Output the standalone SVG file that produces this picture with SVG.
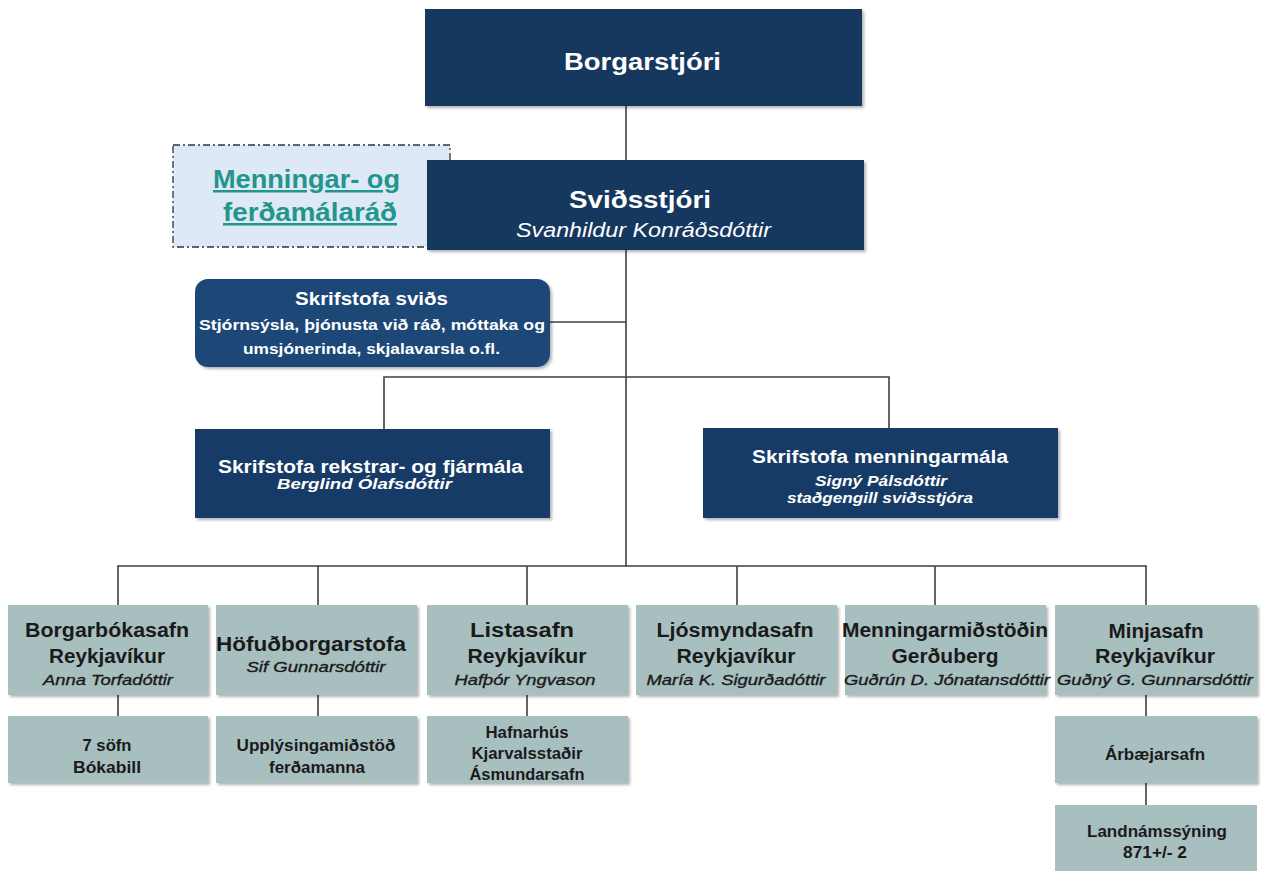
<svg xmlns="http://www.w3.org/2000/svg" width="1265" height="871" viewBox="0 0 1265 871">
<style>
text{font-family:"Liberation Sans",Arial,sans-serif;text-anchor:middle}
.w{fill:#ffffff}
.k{fill:#1a1a1a}
.b{font-weight:bold}
.i{font-style:italic}
.nm{stroke:#1a1a1a;stroke-width:0.35}
.dk{fill:#17375e}
.md{fill:#163a66}
.sv{fill:#1d4777}
.gr{fill:#a8bfc0}
.ln{stroke:#3f3f3f;stroke-width:1.6;fill:none}
.teal{fill:#23958c;font-weight:bold;text-decoration:underline}
</style>
<defs>
<filter id="sh" x="-5%" y="-5%" width="115%" height="125%">
<feDropShadow dx="2" dy="2" stdDeviation="1.5" flood-color="#000" flood-opacity="0.3"/>
</filter>
</defs>
<rect width="1265" height="871" fill="#ffffff"/>
<g id="connectors">
<path class="ln" d="M626 106 V566"/>
<path class="ln" d="M550 322 H626"/>
<path class="ln" d="M384 429 V377 H889 V428"/>
<path class="ln" d="M118 605 V566 H1146 V605"/>
<path class="ln" d="M318 566 V605 M527 566 V605 M737 566 V605 M935 566 V605"/>
<path class="ln" d="M118 695 V716 M318 695 V716 M527 695 V716 M1146 695 V716 M1146 783 V805"/>
</g>
<g id="borgarstjori">
<rect class="dk" x="425" y="9" width="437" height="97" filter="url(#sh)"/>
<text class="w b" x="642.5" y="70" font-size="23" textLength="157" lengthAdjust="spacingAndGlyphs">Borgarstjóri</text>
</g>
<g id="menningarrad">
<rect x="173" y="145" width="277" height="102" fill="#dde9f7" stroke="#333" stroke-width="1.3" stroke-dasharray="7 3 2 3"/>
<text class="teal" x="306.5" y="188" font-size="25" textLength="187" lengthAdjust="spacingAndGlyphs">Menningar- og</text>
<text class="teal" x="310" y="221" font-size="25" textLength="174" lengthAdjust="spacingAndGlyphs">ferðamálaráð</text>
</g>
<g id="svidsstjori">
<rect class="dk" x="427" y="160" width="437" height="90" filter="url(#sh)"/>
<text class="w b" x="640" y="208" font-size="23" textLength="142" lengthAdjust="spacingAndGlyphs">Sviðsstjóri</text>
<text class="w i" x="643.5" y="237" font-size="20" textLength="255" lengthAdjust="spacingAndGlyphs">Svanhildur Konráðsdóttir</text>
</g>
<g id="skrifstofa-svids">
<rect class="sv" x="195" y="279" width="355" height="88" rx="13" filter="url(#sh)"/>
<text class="w b" x="371.5" y="305" font-size="18" textLength="153" lengthAdjust="spacingAndGlyphs">Skrifstofa sviðs</text>
<text class="w b" x="372" y="330" font-size="15.5" textLength="346" lengthAdjust="spacingAndGlyphs">Stjórnsýsla, þjónusta við ráð, móttaka og</text>
<text class="w b" x="371.5" y="354" font-size="15.5" textLength="257" lengthAdjust="spacingAndGlyphs">umsjónerinda, skjalavarsla o.fl.</text>
</g>
<g id="rekstur">
<rect class="md" x="195" y="429" width="355" height="89" filter="url(#sh)"/>
<text class="w b" x="370.5" y="473" font-size="18" textLength="305" lengthAdjust="spacingAndGlyphs">Skrifstofa rekstrar- og fjármála</text>
<text class="w b i" x="364.5" y="489" font-size="14" textLength="175" lengthAdjust="spacingAndGlyphs">Berglind Ólafsdóttir</text>
</g>
<g id="menningarmal">
<rect class="md" x="703" y="428" width="355" height="90" filter="url(#sh)"/>
<text class="w b" x="880" y="463" font-size="18" textLength="256" lengthAdjust="spacingAndGlyphs">Skrifstofa menningarmála</text>
<text class="w b i" x="881" y="486" font-size="14" textLength="132" lengthAdjust="spacingAndGlyphs">Signý Pálsdóttir</text>
<text class="w b i" x="880" y="503" font-size="14" textLength="186" lengthAdjust="spacingAndGlyphs">staðgengill sviðsstjóra</text>
</g>
<g id="borgarbokasafn">
<rect class="gr" x="8" y="605" width="200" height="90" filter="url(#sh)"/>
<text class="k b" x="107" y="637" font-size="20" textLength="164" lengthAdjust="spacingAndGlyphs">Borgarbókasafn</text>
<text class="k b" x="107" y="663" font-size="20" textLength="116" lengthAdjust="spacingAndGlyphs">Reykjavíkur</text>
<text class="k i nm" x="108" y="685" font-size="15" textLength="130" lengthAdjust="spacingAndGlyphs">Anna Torfadóttir</text>
</g>
<g id="hofudborgarstofa">
<rect class="gr" x="216" y="605" width="201" height="90" filter="url(#sh)"/>
<text class="k b" x="311" y="651" font-size="20" textLength="190" lengthAdjust="spacingAndGlyphs">Höfuðborgarstofa</text>
<text class="k i nm" x="316" y="672" font-size="15" textLength="139" lengthAdjust="spacingAndGlyphs">Sif Gunnarsdóttir</text>
</g>
<g id="listasafn">
<rect class="gr" x="427" y="605" width="201" height="90" filter="url(#sh)"/>
<text class="k b" x="522" y="637" font-size="20" textLength="104" lengthAdjust="spacingAndGlyphs">Listasafn</text>
<text class="k b" x="527" y="663" font-size="20" textLength="119" lengthAdjust="spacingAndGlyphs">Reykjavíkur</text>
<text class="k i nm" x="525" y="685" font-size="15" textLength="141" lengthAdjust="spacingAndGlyphs">Hafþór Yngvason</text>
</g>
<g id="ljosmyndasafn">
<rect class="gr" x="636" y="605" width="201" height="90" filter="url(#sh)"/>
<text class="k b" x="735" y="637" font-size="20" textLength="157" lengthAdjust="spacingAndGlyphs">Ljósmyndasafn</text>
<text class="k b" x="736" y="663" font-size="20" textLength="119" lengthAdjust="spacingAndGlyphs">Reykjavíkur</text>
<text class="k i nm" x="736" y="685" font-size="15" textLength="179" lengthAdjust="spacingAndGlyphs">María K. Sigurðadóttir</text>
</g>
<g id="gerduberg">
<rect class="gr" x="845" y="605" width="201" height="90" filter="url(#sh)"/>
<text class="k b" x="945" y="637" font-size="20" textLength="206" lengthAdjust="spacingAndGlyphs">Menningarmiðstöðin</text>
<text class="k b" x="945" y="663" font-size="20" textLength="107" lengthAdjust="spacingAndGlyphs">Gerðuberg</text>
<text class="k i nm" x="947" y="685" font-size="15" textLength="206" lengthAdjust="spacingAndGlyphs">Guðrún D. Jónatansdóttir</text>
</g>
<g id="minjasafn">
<rect class="gr" x="1055" y="605" width="202" height="90" filter="url(#sh)"/>
<text class="k b" x="1156" y="638" font-size="20" textLength="95" lengthAdjust="spacingAndGlyphs">Minjasafn</text>
<text class="k b" x="1155" y="663" font-size="20" textLength="120" lengthAdjust="spacingAndGlyphs">Reykjavíkur</text>
<text class="k i nm" x="1155" y="685" font-size="15" textLength="196" lengthAdjust="spacingAndGlyphs">Guðný G. Gunnarsdóttir</text>
</g>
<g id="sofn">
<rect class="gr" x="8" y="716" width="200" height="67" filter="url(#sh)"/>
<text class="k b" x="107" y="751" font-size="16" textLength="49" lengthAdjust="spacingAndGlyphs">7 söfn</text>
<text class="k b" x="107" y="773" font-size="16" textLength="68" lengthAdjust="spacingAndGlyphs">Bókabill</text>
</g>
<g id="upplysingamidstod">
<rect class="gr" x="216" y="716" width="201" height="67" filter="url(#sh)"/>
<text class="k b" x="316" y="751" font-size="16" textLength="159" lengthAdjust="spacingAndGlyphs">Upplýsingamiðstöð</text>
<text class="k b" x="317" y="773" font-size="16" textLength="96" lengthAdjust="spacingAndGlyphs">ferðamanna</text>
</g>
<g id="hafnarhus">
<rect class="gr" x="427" y="716" width="201" height="67" filter="url(#sh)"/>
<text class="k b" x="527" y="738" font-size="16" textLength="83" lengthAdjust="spacingAndGlyphs">Hafnarhús</text>
<text class="k b" x="527" y="759" font-size="16" textLength="111" lengthAdjust="spacingAndGlyphs">Kjarvalsstaðir</text>
<text class="k b" x="527" y="780" font-size="16" textLength="115" lengthAdjust="spacingAndGlyphs">Ásmundarsafn</text>
</g>
<g id="arbaejarsafn">
<rect class="gr" x="1055" y="716" width="202" height="67" filter="url(#sh)"/>
<text class="k b" x="1155" y="760" font-size="16" textLength="100" lengthAdjust="spacingAndGlyphs">Árbæjarsafn</text>
</g>
<g id="landnamssyning">
<rect class="gr" x="1055" y="805" width="202" height="75"/>
<text class="k b" x="1157" y="837" font-size="16" textLength="140" lengthAdjust="spacingAndGlyphs">Landnámssýning</text>
<text class="k b" x="1155" y="858" font-size="16" textLength="64" lengthAdjust="spacingAndGlyphs">871+/- 2</text>
</g>
</svg>
